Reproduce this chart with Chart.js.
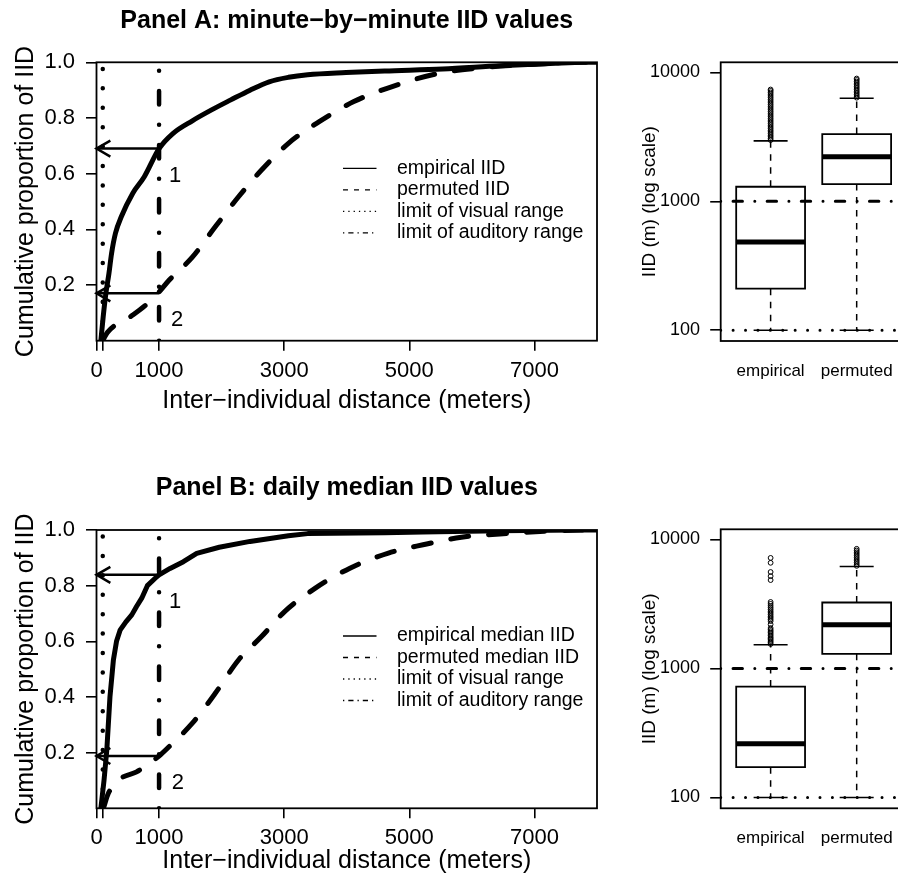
<!DOCTYPE html>
<html>
<head>
<meta charset="utf-8">
<title>IID cumulative distributions</title>
<script src="https://cdn.jsdelivr.net/npm/chart.js@4.4.1/dist/chart.umd.min.js"></script>
<style>
  html, body { margin: 0; background: #fff; overflow: hidden; }
  #page { position: relative; width: 898px; height: 882px; overflow: hidden; }
  #page canvas { position: absolute; }
</style>
</head>
<body>
<div id="page">
  <canvas id="cdfA" width="620" height="440" style="left:0;top:0"></canvas>
  <canvas id="boxA" width="320" height="440" style="left:600px;top:0"></canvas>
  <canvas id="cdfB" width="620" height="442" style="left:0;top:440px"></canvas>
  <canvas id="boxB" width="320" height="442" style="left:600px;top:440px"></canvas>
</div>
<script>
// ---- data ----
const visualRange = 100;    // limit of visual range (m)
const auditoryRange = 1000; // limit of auditory range (m)

const xTicks = [0, 100, 1000, 3000, 5000, 7000];
const xTickLabels = ['0', '', '1000', '3000', '5000', '7000'];
const yTicks = [0.2, 0.4, 0.6, 0.8, 1.0];
const yTickLabels = ['0.2', '0.4', '0.6', '0.8', '1.0'];

// Panel A: minute-by-minute IID
const empiricalA_x = [70, 107, 150, 199, 241, 303, 396, 580, 764, 1000, 1225, 1532, 1839, 2147, 2454, 2760, 3068, 3375, 3990, 4604, 5533, 6447, 7338, 7800, 8000];
const empiricalA_y = [0, 0.086, 0.17, 0.242, 0.314, 0.386, 0.445, 0.53, 0.589, 0.69, 0.745, 0.79, 0.829, 0.865, 0.9, 0.93, 0.946, 0.955, 0.963, 0.969, 0.976, 0.988, 0.997, 1.0, 1.0];
const permutedA_x = [100, 175, 540, 776, 1000, 1163, 1532, 1901, 2270, 2638, 3068, 3560, 4113, 4727, 5465, 6140, 7062, 7740, 8000];
const permutedA_y = [0, 0.03, 0.086, 0.126, 0.175, 0.218, 0.30, 0.41, 0.517, 0.613, 0.709, 0.787, 0.859, 0.913, 0.96, 0.98, 0.994, 1.0, 1.0];
const arrowsA_y = [0.69, 0.17];
const marksA = ['1', '2'];
const marksA_x = [1256, 1288];
const marksA_y = [0.593, 0.074];
const legendA = ['empirical IID', 'permuted IID', 'limit of visual range', 'limit of auditory range'];

// Panel B: daily median IID
const empiricalB_x = [70, 120, 165, 215, 240, 270, 320, 377, 470, 564, 640, 723, 813, 963, 1000, 1176, 1389, 1602, 1962, 2454, 3068, 3375, 4604, 5219, 6447, 7676, 8000];
const empiricalB_y = [0, 0.1, 0.21, 0.40, 0.46, 0.533, 0.6, 0.64, 0.67, 0.695, 0.725, 0.755, 0.80, 0.832, 0.839, 0.862, 0.886, 0.916, 0.938, 0.959, 0.979, 0.987, 0.99, 0.993, 0.997, 1.0, 1.0];
const permutedB_x = [110, 190, 396, 641, 1000, 1163, 1532, 1901, 2270, 2638, 3007, 3498, 4051, 4666, 5219, 5832, 6447, 7338, 7740, 8000];
const permutedB_y = [0, 0.054, 0.108, 0.131, 0.188, 0.222, 0.306, 0.414, 0.533, 0.617, 0.707, 0.791, 0.863, 0.917, 0.947, 0.974, 0.986, 0.997, 1.0, 1.0];
const arrowsB_y = [0.839, 0.188];
const marksB = ['1', '2'];
const marksB_x = [1256, 1300];
const marksB_y = [0.74, 0.092];
const legendB = ['empirical median IID', 'permuted median IID', 'limit of visual range', 'limit of auditory range'];

// Box plots (IID in m, log scale)
const boxCategories = ['empirical', 'permuted'];
const boxTicks = [100, 1000, 10000];
const boxTickLabels = ['100', '1000', '10000'];

const boxA_low = [100, 100];
const boxA_q1 = [210, 1361];
const boxA_median = [483, 2218];
const boxA_q3 = [1298, 3326];
const boxA_high = [2950, 6316];
const boxA_outEmpirical = [2990, 3080, 3170, 3260, 3360, 3460, 3560, 3670, 3780, 3900, 4020, 4140, 4270, 4400, 4540, 4680, 4830, 4980, 5140, 5300, 5470, 5640, 5820, 6000, 6190, 6380, 6580, 6790, 7000, 7200, 7380];
const boxA_outPermuted = [6380, 6560, 6750, 6950, 7150, 7360, 7580, 7800, 8030, 8270, 8510, 8760, 8980];

const boxB_low = [100, 100];
const boxB_q1 = [172, 1300];
const boxB_median = [261, 2184];
const boxB_q3 = [725, 3250];
const boxB_high = [1527, 6180];
const boxB_outEmpirical = [1550, 1590, 1630, 1670, 1710, 1750, 1800, 1850, 1900, 1950, 2000, 2060, 2200, 2330, 2400, 2470, 2540, 2620, 2700, 2780, 2870, 2960, 3060, 3170, 3280, 4850, 5200, 5600, 6600, 7200];
const boxB_outPermuted = [6250, 6440, 6640, 6840, 7050, 7270, 7500, 7730, 7970, 8220, 8470];

// ---- drawing ----
const FONT = "'Liberation Sans', Arial, Helvetica, sans-serif";
Chart.defaults.font.family = FONT;
Chart.defaults.color = '#000';
Chart.defaults.animation = false;

const framePlugin = {
  id: 'frame',
  afterDatasetsDraw(chart) {
    const { ctx, chartArea: a } = chart;
    ctx.save();
    ctx.strokeStyle = '#000';
    ctx.lineWidth = 1.8;
    ctx.strokeRect(a.left, a.top, a.right - a.left, a.bottom - a.top);
    ctx.restore();
  }
};

// open arrow heads at the last point of datasets flagged arrowHead
const arrowPlugin = {
  id: 'arrowHeads',
  afterDatasetsDraw(chart) {
    const ctx = chart.ctx;
    chart.data.datasets.forEach((ds, i) => {
      if (!ds.arrowHead) return;
      const pts = chart.getDatasetMeta(i).data;
      const tip = pts[pts.length - 1], from = pts[pts.length - 2];
      const ang = Math.atan2(tip.y - from.y, tip.x - from.x);
      const len = 16, spread = Math.PI / 6;
      ctx.save();
      ctx.strokeStyle = '#000';
      ctx.lineWidth = 2.5;
      ctx.beginPath();
      ctx.moveTo(tip.x - len * Math.cos(ang - spread), tip.y - len * Math.sin(ang - spread));
      ctx.lineTo(tip.x, tip.y);
      ctx.lineTo(tip.x - len * Math.cos(ang + spread), tip.y - len * Math.sin(ang + spread));
      ctx.stroke();
      ctx.restore();
    });
  }
};

function marksPlugin(texts, xs, ys) {
  return {
    id: 'marks',
    afterDatasetsDraw(chart) {
      const { ctx, scales: { x, y } } = chart;
      ctx.save();
      ctx.font = '22px ' + FONT;
      ctx.fillStyle = '#000';
      ctx.textAlign = 'center';
      ctx.textBaseline = 'middle';
      texts.forEach((t, i) => ctx.fillText(t, x.getPixelForValue(xs[i]), y.getPixelForValue(ys[i])));
      ctx.restore();
    }
  };
}

// R style legend with thin sample lines, no box
const legendPlugin = {
  id: 'rLegend',
  afterDraw(chart) {
    const { ctx, chartArea: a } = chart;
    const items = chart.data.datasets.filter(d => 'legendDash' in d);
    ctx.save();
    ctx.font = '19.5px ' + FONT;
    ctx.fillStyle = '#000';
    ctx.strokeStyle = '#000';
    ctx.textBaseline = 'middle';
    items.forEach((d, i) => {
      const y = a.top + 106 + i * 21.5;
      ctx.lineWidth = 1.3;
      ctx.setLineDash(d.legendDash);
      ctx.beginPath();
      ctx.moveTo(a.left + 246.5, y);
      ctx.lineTo(a.left + 280, y);
      ctx.stroke();
      ctx.setLineDash([]);
      ctx.fillText(d.label, a.left + 300.5, y);
    });
    ctx.restore();
  }
};

function cdfChart(id, p) {
  const pts = (xs, ys) => xs.map((x, i) => ({ x, y: ys[i] }));
  const line = (extra) => Object.assign({
    borderColor: '#000', borderWidth: 5, pointRadius: 0, tension: 0,
    borderCapStyle: 'round', borderJoinStyle: 'round'
  }, extra);
  const datasets = [
    line({ label: p.legend[0], data: pts(p.empX, p.empY), legendDash: [],
           cubicInterpolationMode: p.smoothEmp ? 'monotone' : 'default' }),
    line({ label: p.legend[1], data: pts(p.permX, p.permY), borderDash: [18, 20], legendDash: [5, 6],
           cubicInterpolationMode: 'monotone' }),
    line({ label: p.legend[2], data: [{ x: visualRange, y: 0 }, { x: visualRange, y: 1 }],
           borderWidth: 4.5, borderDash: [0.01, 19.4], legendDash: [1.3, 4] }),
    line({ label: p.legend[3], data: [{ x: auditoryRange, y: 0 }, { x: auditoryRange, y: 1 }],
           borderWidth: 4.5, borderDash: [0.01, 20.24, 13.5, 20.25], legendDash: [1.3, 4, 5.2, 4] })
  ];
  p.arrows.forEach(y => datasets.push(line({
    data: [{ x: auditoryRange, y }, { x: 0, y }], borderWidth: 2.5, borderCapStyle: 'butt', arrowHead: true
  })));

  const titlePadTop = p.titleMid - 15;
  return new Chart(document.getElementById(id), {
    type: 'line',
    data: { datasets },
    options: {
      responsive: false,
      events: [],
      layout: { autoPadding: false, padding: { left: 0, right: 23, top: 0, bottom: 0 } },
      plugins: {
        legend: { display: false },
        tooltip: { enabled: false },
        title: {
          display: true, text: p.title, fullSize: false, color: '#000',
          font: { size: 25, weight: 'bold' },
          padding: { top: titlePadTop, bottom: p.top - titlePadTop - 30 }
        }
      },
      scales: {
        x: {
          type: 'linear', min: 0, max: 8000, bounds: 'data',
          afterBuildTicks: s => { s.ticks = xTicks.map(v => ({ value: v })); },
          afterFit: s => { s.height = p.height - p.bottom; s.paddingLeft = 0; s.paddingRight = 0; },
          ticks: { autoSkip: false, maxRotation: 0, font: { size: 22 }, padding: 6.8,
                   callback: (v, i) => xTickLabels[i] },
          grid: { drawOnChartArea: false, tickLength: 10, color: '#000', lineWidth: 1.6 },
          border: { display: false },
          title: { display: true, text: 'Inter\u2212individual distance (meters)', font: { size: 25 },
                   padding: { top: 0, bottom: p.height - 15 - p.xTitleMid } }
        },
        y: {
          type: 'linear', min: 0, max: 1, bounds: 'data',
          afterBuildTicks: s => { s.ticks = yTicks.map(v => ({ value: v })); },
          afterFit: s => { s.width = 96.5; },
          ticks: { font: { size: 22 }, padding: 11, callback: (v, i) => yTickLabels[i] },
          grid: { drawOnChartArea: false, tickLength: 10.5, color: '#000', lineWidth: 1.6 },
          border: { display: false },
          title: { display: true, text: 'Cumulative proportion of IID', font: { size: 25 },
                   padding: { top: 11, bottom: 0 } }
        }
      }
    },
    plugins: [framePlugin, arrowPlugin, marksPlugin(p.marks, p.marksX, p.marksY), legendPlugin]
  });
}

function boxChart(id, p) {
  const pos = boxCategories.map((c, i) => i + 1);
  const xMin = 0.42, xMax = 2.58, half = 0.4;
  const boxes = [], whiskers = [], caps = [], outliers = [];
  pos.forEach((x, i) => {
    boxes.push({ x: x - half, y: p.q1[i] }, { x: x + half, y: p.q1[i] }, { x: x + half, y: p.q3[i] },
               { x: x - half, y: p.q3[i] }, { x: x - half, y: p.q1[i] }, { x, y: null });
    whiskers.push({ x, y: p.q3[i] }, { x, y: p.high[i] }, { x, y: null },
                  { x, y: p.q1[i] }, { x, y: p.low[i] }, { x, y: null });
    caps.push({ x, y: p.low[i] }, { x, y: p.high[i] });
    p.outliers[i].forEach(v => outliers.push({ x, y: v }));
  });

  const datasets = [
    { type: 'line', order: 10, data: boxes, borderColor: '#000', borderWidth: 1.8,
      borderJoinStyle: 'miter', borderCapStyle: 'square', pointRadius: 0, spanGaps: false },
    { type: 'line', order: 9, data: whiskers, borderColor: '#000', borderWidth: 1.5,
      borderDash: [6.5, 6.5], pointRadius: 0, spanGaps: false },
    { type: 'scatter', order: 8, data: caps, pointStyle: 'line', pointRadius: 17,
      pointBorderWidth: 1.6, borderColor: '#000' },
    { type: 'scatter', order: 7, data: pos.map((x, i) => ({ x, y: p.median[i] })), pointStyle: 'line',
      pointRadius: 34.4, pointBorderWidth: 5, borderColor: '#000' },
    { type: 'scatter', order: 6, data: outliers, pointStyle: 'circle', pointRadius: 2.4,
      pointBorderWidth: 1, borderColor: '#000', backgroundColor: 'rgba(0,0,0,0)' },
    { type: 'line', order: 1, data: [{ x: xMin, y: auditoryRange }, { x: xMax, y: auditoryRange }],
      borderColor: '#000', borderWidth: 3, borderCapStyle: 'round', borderDash: [0.01, 12.34, 9.4, 12.35], pointRadius: 0 },
    { type: 'line', order: 1, data: [{ x: xMin, y: visualRange }, { x: xMax, y: visualRange }],
      borderColor: '#000', borderWidth: 3, borderCapStyle: 'round', borderDash: [0.01, 12.4], pointRadius: 0 }
  ];

  return new Chart(document.getElementById(id), {
    type: 'scatter',
    data: { datasets },
    options: {
      responsive: false,
      events: [],
      layout: { autoPadding: false, padding: { left: 0, right: 13.4, top: p.top, bottom: 0 } },
      plugins: { legend: { display: false }, tooltip: { enabled: false } },
      scales: {
        x: {
          type: 'linear', min: xMin, max: xMax, bounds: 'data',
          afterBuildTicks: s => { s.ticks = pos.map(v => ({ value: v })); },
          afterFit: s => { s.height = p.height - p.bottom; s.paddingLeft = 0; s.paddingRight = 0; },
          ticks: { autoSkip: false, maxRotation: 0, font: { size: 17 }, padding: 20,
                   callback: (v, i) => boxCategories[i] },
          grid: { display: false, drawTicks: false },
          border: { display: false }
        },
        y: {
          type: 'logarithmic', min: 82.5, max: 12000, bounds: 'data',
          afterBuildTicks: s => { s.ticks = boxTicks.map(v => ({ value: v })); },
          afterFit: s => { s.width = 120.7; },
          ticks: { font: { size: 18 }, padding: 10.2, callback: (v, i) => boxTickLabels[i] },
          grid: { drawOnChartArea: false, tickLength: 10.5, color: '#000', lineWidth: 1.6 },
          border: { display: false },
          title: { display: true, text: 'IID (m) (log scale)', font: { size: 19 },
                   padding: { top: 38.6, bottom: 0 } }
        }
      }
    },
    plugins: [framePlugin]
  });
}

cdfChart('cdfA', {
  title: 'Panel A: minute\u2212by\u2212minute IID values', smoothEmp: true,
  empX: empiricalA_x, empY: empiricalA_y, permX: permutedA_x, permY: permutedA_y,
  arrows: arrowsA_y, marks: marksA, marksX: marksA_x, marksY: marksA_y, legend: legendA,
  top: 62.3, bottom: 340.7, height: 440, titleMid: 21.3, xTitleMid: 401
});
cdfChart('cdfB', {
  title: 'Panel B: daily median IID values', smoothEmp: false,
  empX: empiricalB_x, empY: empiricalB_y, permX: permutedB_x, permY: permutedB_y,
  arrows: arrowsB_y, marks: marksB, marksX: marksB_x, marksY: marksB_y, legend: legendB,
  top: 90, bottom: 368.3, height: 442, titleMid: 48, xTitleMid: 421
});
boxChart('boxA', {
  low: boxA_low, q1: boxA_q1, median: boxA_median, q3: boxA_q3, high: boxA_high,
  outliers: [boxA_outEmpirical, boxA_outPermuted], top: 62.3, bottom: 341, height: 440
});
boxChart('boxB', {
  low: boxB_low, q1: boxB_q1, median: boxB_median, q3: boxB_q3, high: boxB_high,
  outliers: [boxB_outEmpirical, boxB_outPermuted], top: 89.3, bottom: 368.3, height: 442
});
</script>
</body>
</html>
